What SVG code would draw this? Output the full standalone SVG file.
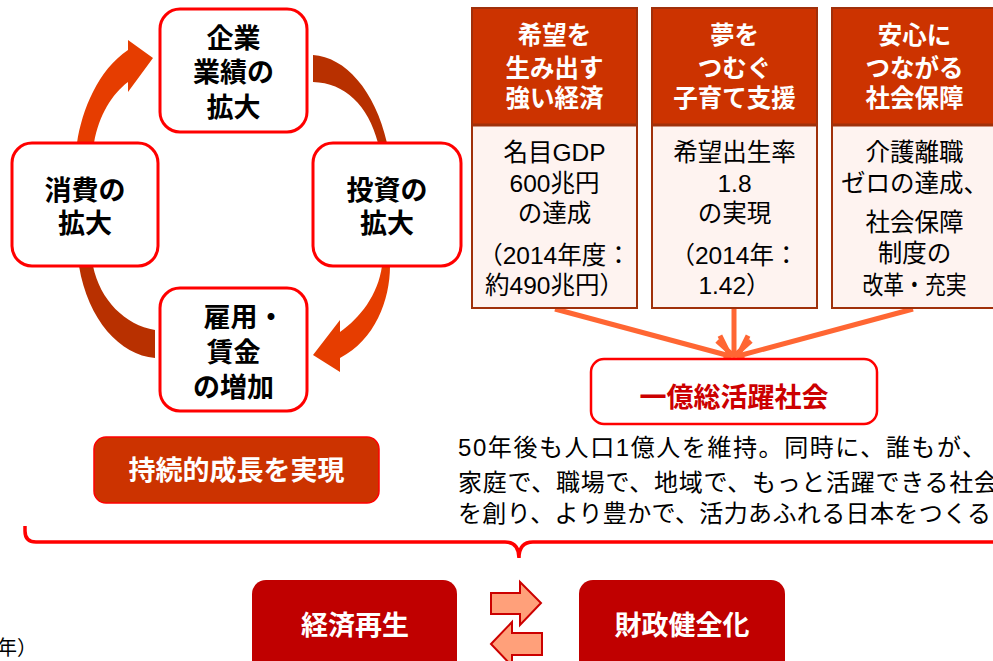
<svg xmlns="http://www.w3.org/2000/svg" width="993" height="661" viewBox="0 0 993 661">
<defs>
<style>
.cyc{fill:#fff;stroke:#ff0000;stroke-width:3}
.ct{font-family:"Noto Sans CJK JP","Liberation Sans",sans-serif;font-weight:bold;font-size:27px;fill:#000;text-anchor:middle}
.hd{fill:#cc3300}
.bd{fill:#fef3f0}
.bx{fill:none;stroke:#a0300a;stroke-width:2}
.sep{stroke:#a0300a;stroke-width:3}
.ht{font-family:"Noto Sans CJK JP","Liberation Sans",sans-serif;font-weight:bold;font-size:24.5px;fill:#fff;text-anchor:middle}
.bt{font-family:"Liberation Sans","Noto Sans CJK JP",sans-serif;font-size:24.5px;fill:#000;text-anchor:middle}
.pt{font-family:"Liberation Sans","Noto Sans CJK JP",sans-serif;font-size:24px;fill:#000}
.wt{font-family:"Noto Sans CJK JP","Liberation Sans",sans-serif;font-weight:bold;font-size:27px;fill:#fff;text-anchor:middle}
.conv{stroke:#ff6633;stroke-width:5;fill:none}
.orng{fill:#e63d00}
.dark{fill:#b83000}
.barr{fill:#ffa07a;stroke:#cc0000;stroke-width:2}
</style>
<marker id="vhead" viewBox="-20 -20 24 40" refX="0" refY="0" markerWidth="24" markerHeight="40" markerUnits="userSpaceOnUse" orient="auto">
<path d="M-15,-17 L0,0 L-15,17" fill="none" stroke="#ff6633" stroke-width="5"/>
</marker>
</defs>

<g id="connectors">
<path class="orng" d="M77,143 C82,110 98,70 128,50 L128,40 L153,58 L128,92 L128,82 C112,94 99,115 94,143 Z"/>
<path class="dark" d="M313,55 C345,57 375,90 387,143 L378,143 C368,105 345,83 313,82 Z"/>
<path class="orng" d="M390,266 C390,300 375,340 340,358 L340,372 L313,355 L340,320 L340,332 C360,318 378,295 382,266 Z"/>
<path class="dark" d="M79,266 C88,320 120,355 155,358 L155,330 C125,325 100,300 93,266 Z"/>
<line class="conv" x1="555" y1="309" x2="730" y2="356" marker-end="url(#vhead)"/>
<line class="conv" x1="734" y1="309" x2="734" y2="356" marker-end="url(#vhead)"/>
<line class="conv" x1="913" y1="309" x2="738" y2="356" marker-end="url(#vhead)"/>
<path d="M25,526 L25,531 Q25,542 36,542 L505,542 Q519,542 519,558 Q519,542 533,542 L1000,542" fill="none" stroke="#ff0000" stroke-width="3.5"/>
<polygon class="barr" points="491,593 520,593 520,582 541,603 520,625 520,614 491,614"/>
<polygon class="barr" points="491,644 512,622 512,633 542,633 542,655 512,655 512,666"/>
</g>

<g id="node-kigyo">
<rect class="cyc" x="160" y="9" width="147" height="123" rx="20"/>
<text class="ct" x="233.5" y="48">企業</text>
<text class="ct" x="233.5" y="82">業績の</text>
<text class="ct" x="233.5" y="117">拡大</text>
</g>
<g id="node-shohi">
<rect class="cyc" x="12" y="143" width="146" height="123" rx="20"/>
<text class="ct" x="85" y="200">消費の</text>
<text class="ct" x="85" y="233">拡大</text>
</g>
<g id="node-toshi">
<rect class="cyc" x="313" y="143" width="148" height="123" rx="20"/>
<text class="ct" x="387" y="200">投資の</text>
<text class="ct" x="387" y="233">拡大</text>
</g>
<g id="node-koyo">
<rect class="cyc" x="160" y="288" width="147" height="123" rx="20"/>
<text class="ct" x="244" y="327">雇用・</text>
<text class="ct" x="233.5" y="362">賃金</text>
<text class="ct" x="233.5" y="397">の増加</text>
</g>

<g id="node-keizai">
<rect class="hd" x="472" y="8" width="165" height="117"/>
<rect class="bd" x="472" y="125" width="165" height="183"/>
<line class="sep" x1="472" y1="125" x2="637" y2="125"/>
<rect class="bx" x="472" y="8" width="165" height="300"/>
<text class="ht" x="554.5" y="44">希望を</text>
<text class="ht" x="554.5" y="77">生み出す</text>
<text class="ht" x="554.5" y="107">強い経済</text>
<text class="bt" x="554.5" y="160.5">名目GDP</text>
<text class="bt" x="554.5" y="191.5">600兆円</text>
<text class="bt" x="554.5" y="221.5">の達成</text>
<text class="bt" x="554.5" y="263.5">（2014年度：</text>
<text class="bt" x="554.5" y="293.5">約490兆円）</text>
</g>
<g id="node-kosodate">
<rect class="hd" x="652" y="8" width="165" height="117"/>
<rect class="bd" x="652" y="125" width="165" height="183"/>
<line class="sep" x1="652" y1="125" x2="817" y2="125"/>
<rect class="bx" x="652" y="8" width="165" height="300"/>
<text class="ht" x="734.5" y="44">夢を</text>
<text class="ht" x="734.5" y="77">つむぐ</text>
<text class="ht" x="734.5" y="107">子育て支援</text>
<text class="bt" x="734.5" y="160.5">希望出生率</text>
<text class="bt" x="734.5" y="191.5">1.8</text>
<text class="bt" x="734.5" y="221.5">の実現</text>
<text class="bt" x="734.5" y="263.5">（2014年：</text>
<text class="bt" x="734.5" y="293.5">1.42）</text>
</g>
<g id="node-shakaihosho">
<rect class="hd" x="832" y="8" width="165" height="117"/>
<rect class="bd" x="832" y="125" width="165" height="183"/>
<line class="sep" x1="832" y1="125" x2="997" y2="125"/>
<rect class="bx" x="832" y="8" width="165" height="300"/>
<text class="ht" x="914.5" y="44">安心に</text>
<text class="ht" x="914.5" y="77">つながる</text>
<text class="ht" x="914.5" y="107">社会保障</text>
<text class="bt" x="914.5" y="160.5">介護離職</text>
<text class="bt" x="914.5" y="191.5">ゼロの達成、</text>
<text class="bt" x="914.5" y="230.5">社会保障</text>
<text class="bt" x="914.5" y="261.5">制度の</text>
<text class="bt" x="914.5" y="293.5" textLength="104" lengthAdjust="spacingAndGlyphs">改革・充実</text>
</g>

<g id="node-ichioku">
<rect x="591" y="359" width="286" height="65" rx="13" fill="#fff" stroke="#ff0000" stroke-width="2.5"/>
<text x="734" y="406.5" font-family="Noto Sans CJK JP, Liberation Sans, sans-serif" font-weight="bold" font-size="27" fill="#cc0000" text-anchor="middle">一億総活躍社会</text>
</g>

<g id="paragraph">
<text class="pt" x="458" y="455.5" textLength="528" lengthAdjust="spacing">50年後も人口1億人を維持。同時に、誰もが、</text>
<text class="pt" x="458" y="490.5" textLength="540" lengthAdjust="spacing">家庭で、職場で、地域で、もっと活躍できる社会</text>
<text class="pt" x="458" y="521.5" textLength="533" lengthAdjust="spacing">を創り、より豊かで、活力あふれる日本をつくる</text>
</g>

<g id="node-jizoku">
<rect x="94" y="437" width="285" height="66" rx="12" fill="#cc3300" stroke="#ff0000" stroke-width="1.5"/>
<text class="wt" x="236.5" y="480">持続的成長を実現</text>
</g>

<g id="node-saisei">
<rect x="252" y="580" width="205" height="120" rx="14" fill="#c00000"/>
<text class="wt" x="355" y="635">経済再生</text>
</g>
<g id="node-zaisei">
<rect x="579" y="580" width="206" height="120" rx="14" fill="#c00000"/>
<text class="wt" x="682" y="635">財政健全化</text>
</g>

<text x="-3" y="655" font-family="Liberation Sans, Noto Sans CJK JP, sans-serif" font-size="20" fill="#000">年）</text>
</svg>
